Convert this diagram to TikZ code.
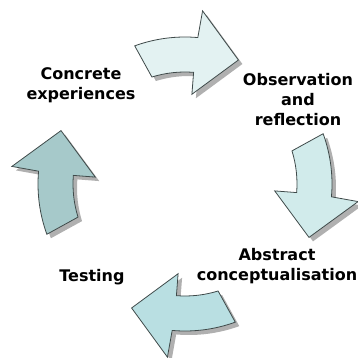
\documentclass[tikz,border=0pt]{standalone}
\usepackage{fontspec}
\setmainfont{DejaVu Sans}
\definecolor{aone}{HTML}{E3F2F2}
\definecolor{atwo}{HTML}{D1EBEB}
\definecolor{athree}{HTML}{B9DFE2}
\definecolor{afour}{HTML}{A6C9CA}
\definecolor{edgec}{HTML}{3F4A4A}
\definecolor{shadowc}{HTML}{B0B0B0}
\newcommand\arrowpath{(110:147) arc[start angle=110, end angle=85, radius=147] -- (84.2:174) -- (66.7:135) -- (85.6:90) -- (85.6:112) arc[start angle=85.6, end angle=107.2, radius=112] -- cycle}
\tikzset{
  arrowbody/.style={draw=edgec, line width=0.8pt, line join=miter},
  arrowshadow/.style={fill=shadowc, draw=none},
  lbl/.style={font=\bfseries\fontsize{16}{20}\selectfont, align=center, inner sep=0pt}
}
\begin{document}
\begin{tikzpicture}[x=1pt,y=1pt]
\useasboundingbox (-185,-174) rectangle (172,184);
% shadows
\foreach \r in {0,-90,-180,90}{
  \begin{scope}[shift={(4,-4)}]
    \fill[arrowshadow, rotate=\r] \arrowpath;
  \end{scope}
}
% arrows
\filldraw[arrowbody, fill=aone, rotate=0] \arrowpath;
\filldraw[arrowbody, fill=atwo, rotate=-90] \arrowpath;
\filldraw[arrowbody, fill=athree, rotate=-180] \arrowpath;
\filldraw[arrowbody, fill=afour, rotate=90] \arrowpath;
% labels
\node[lbl] (ce) at (-104,99) {Concrete\\experiences};
\node[lbl] (or) at (113,84) {Observation\\and\\reflection};
\node[lbl] (ac) at (92,-82) {Abstract\\conceptualisation};
\node[lbl] (te) at (-93,-93) {Testing};
\end{tikzpicture}
\end{document}
